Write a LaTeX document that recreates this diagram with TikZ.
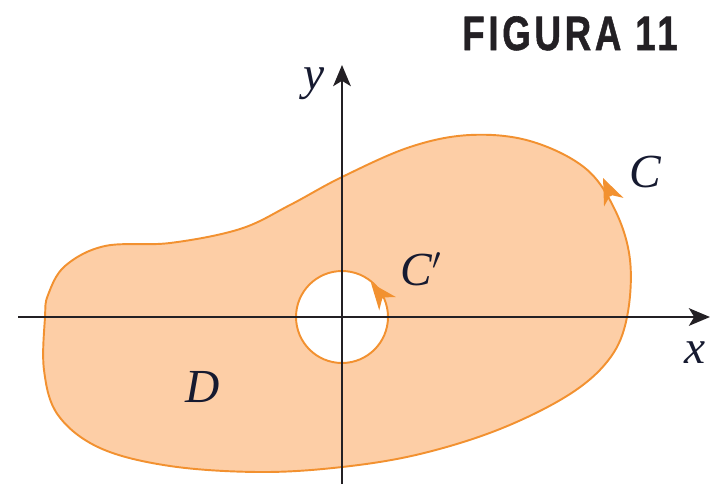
\documentclass[tikz,border=0pt]{standalone}
\usepackage{fontspec}
\setmainfont{Liberation Serif}
\newfontfamily\figfont[LetterSpace=10,FakeBold=1.2]{Liberation Sans}
\usepackage{xcolor}
\usepackage{tikz}
\usetikzlibrary{arrows.meta}

\definecolor{peach}{RGB}{253,206,166}
\definecolor{curveorange}{RGB}{242,145,48}
\definecolor{axisdark}{RGB}{35,32,36}
\definecolor{labeldark}{RGB}{22,26,48}

\begin{document}
\begin{tikzpicture}[x=0.02cm, y=-0.02cm,
    curve/.style={draw=curveorange, line width=1.1pt},
    orient/.style={curveorange, line width=1.1pt, -{Stealth[length=15pt,width=12pt,inset=4.5pt]}},
    axis/.style={axisdark, line width=1.4pt, -{Stealth[length=12pt,width=10pt,inset=3pt]}},
    lbl/.style={anchor=base west, inner sep=0pt, text=labeldark, font=\fontsize{27}{30}\selectfont\itshape}]
    \useasboundingbox (0,0) rectangle (715,484);

    % region D with the hole
    \fill[peach, even odd rule] plot[smooth cycle, tension=0.6] coordinates {
        (45,317) (44,370) (58,415) (100,448) (170,466) (260,472) (342,467) (420,454)
        (500,429) (570,394) (610,358) (627,317) (630,260) (615,210) (585,168) (530,141)
        (470,135) (410,147) (342,177) (290,205) (240,229) (170,243) (105,246) (65,266) (48,295)}
        (342,317) circle[radius=0.92cm];

    \draw[curve] plot[smooth cycle, tension=0.6] coordinates {
        (45,317) (44,370) (58,415) (100,448) (170,466) (260,472) (342,467) (420,454)
        (500,429) (570,394) (610,358) (627,317) (630,260) (615,210) (585,168) (530,141)
        (470,135) (410,147) (342,177) (290,205) (240,229) (170,243) (105,246) (65,266) (48,295)};
    \draw[curve] (342,317) circle[radius=0.92cm];

    % axes
    \coordinate (xstart) at (18,317);
    \coordinate (xend) at (710,317);
    \coordinate (ystart) at (342,484);
    \coordinate (yend) at (342,65);
    \draw[axis] (xstart) -- (xend);
    \draw[axis] (ystart) -- (yend);

    % orientation of C and C'
    \coordinate (cback) at (611,196);
    \coordinate (ctip) at (603,178);
    \draw[orient] (cback) -- (ctip);
    \coordinate (cpback) at (383,298);
    \coordinate (cptip) at (371,283);
    \draw[orient] (cpback) -- (cptip);

    \node[lbl] (ylabel) at (303,89) {y};
    \node[lbl] (xlabel) at (684,363) {x};
    \node[lbl] (clabel) at (629,187) {C};
    \node[lbl] (cplabel) at (400,285) {C$'$};
    \node[lbl] (dlabel) at (185,402) {D};

    \node[anchor=base, inner sep=0pt, text=axisdark] (title) at (570,50)
        {\scalebox{0.76}[1]{\figfont\bfseries\fontsize{27.5}{30}\selectfont FIGURA 11}};
\end{tikzpicture}
\end{document}
